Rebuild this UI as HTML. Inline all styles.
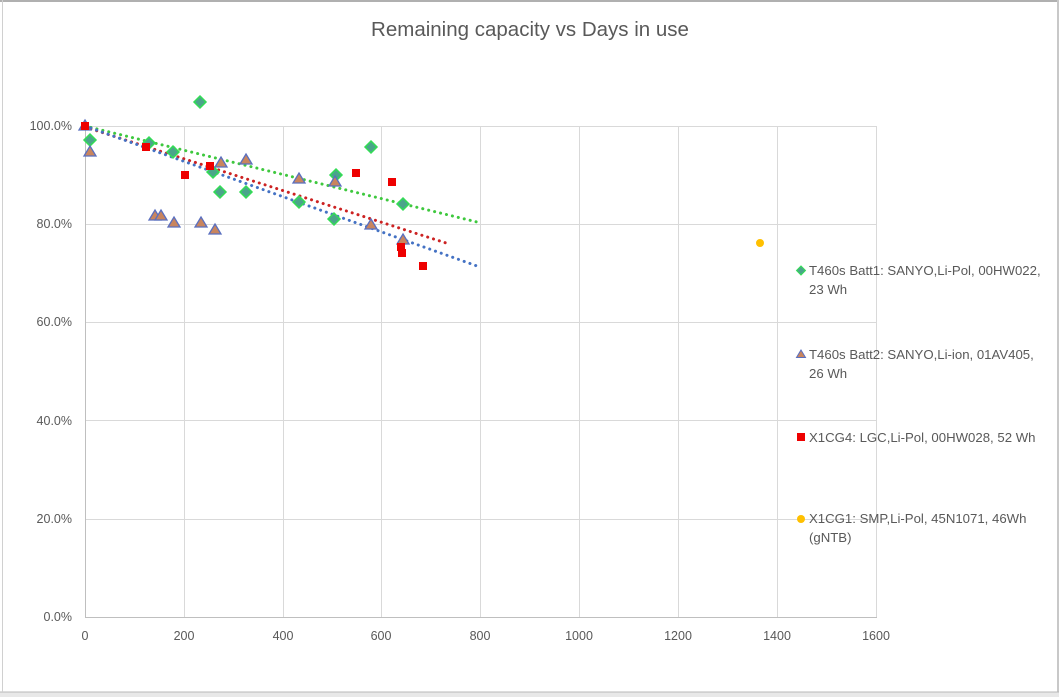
<!DOCTYPE html>
<html><head><meta charset="utf-8"><style>
body{margin:0;background:#fff}
svg{display:block;font-family:"Liberation Sans",sans-serif}
</style></head><body>
<svg width="1059" height="697" viewBox="0 0 1059 697" xmlns="http://www.w3.org/2000/svg">
<rect x="0" y="0" width="1059" height="697" fill="#fff"/>
<rect x="0" y="0" width="1059" height="2" fill="#b0b0b0"/>
<rect x="1057" y="0" width="2" height="697" fill="#c8c8c8"/>
<rect x="0" y="692" width="1059" height="5" fill="#e8e8e8"/>
<line x1="0" y1="692" x2="1059" y2="692" stroke="#b8b8b8"/>
<line x1="2.5" y1="0" x2="2.5" y2="692" stroke="#d0d0d0"/>
<text x="530" y="36" text-anchor="middle" font-size="20.5" fill="#595959">Remaining capacity vs Days in use</text>
<g stroke="#d9d9d9" stroke-width="1">
<line x1="85" y1="126.5" x2="877" y2="126.5"/>
<line x1="85" y1="224.5" x2="877" y2="224.5"/>
<line x1="85" y1="322.5" x2="877" y2="322.5"/>
<line x1="85" y1="420.5" x2="877" y2="420.5"/>
<line x1="85" y1="519.5" x2="877" y2="519.5"/>
<line x1="184.5" y1="126" x2="184.5" y2="617"/>
<line x1="283.5" y1="126" x2="283.5" y2="617"/>
<line x1="381.5" y1="126" x2="381.5" y2="617"/>
<line x1="480.5" y1="126" x2="480.5" y2="617"/>
<line x1="579.5" y1="126" x2="579.5" y2="617"/>
<line x1="678.5" y1="126" x2="678.5" y2="617"/>
<line x1="777.5" y1="126" x2="777.5" y2="617"/>
<line x1="876.5" y1="126" x2="876.5" y2="617"/>
</g>
<line x1="85.5" y1="126" x2="85.5" y2="617" stroke="#bfbfbf"/>
<line x1="85" y1="617.5" x2="877" y2="617.5" stroke="#bfbfbf"/>
<g font-size="12.5" fill="#595959" text-anchor="end">
<text x="72" y="130">100.0%</text>
<text x="72" y="228">80.0%</text>
<text x="72" y="326">60.0%</text>
<text x="72" y="425">40.0%</text>
<text x="72" y="523">20.0%</text>
<text x="72" y="621">0.0%</text>
</g>
<g font-size="12.5" fill="#595959" text-anchor="middle">
<text x="85" y="640">0</text>
<text x="184" y="640">200</text>
<text x="283" y="640">400</text>
<text x="381" y="640">600</text>
<text x="480" y="640">800</text>
<text x="579" y="640">1000</text>
<text x="678" y="640">1200</text>
<text x="777" y="640">1400</text>
<text x="876" y="640">1600</text>
</g>
<g fill="none" stroke-width="3" stroke-linecap="round" stroke-dasharray="0.1 6">
<line x1="85" y1="126" x2="477" y2="222" stroke="#3ec83e"/>
<line x1="85" y1="127" x2="446" y2="243" stroke="#cc2222"/>
<line x1="85" y1="126" x2="477" y2="266" stroke="#4472c4"/>
</g>
<g fill="#4aa58a" stroke="#33dd55" stroke-width="1.5">
<path d="M90 134l6 6-6 6-6-6z"/><path d="M200 96l6 6-6 6-6-6z"/><path d="M149 137l6 6-6 6-6-6z"/>
<path d="M173 146l6 6-6 6-6-6z"/><path d="M213 166l6 6-6 6-6-6z"/><path d="M220 186l6 6-6 6-6-6z"/>
<path d="M246 186l6 6-6 6-6-6z"/><path d="M299 196l6 6-6 6-6-6z"/><path d="M334 213l6 6-6 6-6-6z"/>
<path d="M336 169l6 6-6 6-6-6z"/><path d="M371 141l6 6-6 6-6-6z"/><path d="M403 198l6 6-6 6-6-6z"/>
</g>
<g fill="#c9855e" stroke="#5a6fbf" stroke-width="1.3">
<path d="M85 120l6 10h-12z"/><path d="M90 146l6 10h-12z"/><path d="M155 210l6 10h-12z"/><path d="M161 210l6 10h-12z"/>
<path d="M174 217l6 10h-12z"/><path d="M201 217l6 10h-12z"/><path d="M215 224l6 10h-12z"/><path d="M221 157l6 10h-12z"/>
<path d="M246 154l6 10h-12z"/><path d="M299 173l6 10h-12z"/><path d="M335 176l6 10h-12z"/><path d="M371 219l6 10h-12z"/>
<path d="M403 234l6 10h-12z"/>
</g>
<g fill="#ee0000">
<rect x="81" y="122" width="8" height="8"/><rect x="142" y="143" width="8" height="8"/><rect x="181" y="171" width="8" height="8"/>
<rect x="206" y="162" width="8" height="8"/><rect x="352" y="169" width="8" height="8"/><rect x="388" y="178" width="8" height="8"/>
<rect x="397" y="243" width="8" height="8"/><rect x="398" y="249" width="8" height="8"/><rect x="419" y="262" width="8" height="8"/>
</g>
<circle cx="760" cy="243" r="4" fill="#ffc000"/>
<g font-size="13.2" fill="#595959">
<path d="M801 266l4.5 4.5-4.5 4.5-4.5-4.5z" fill="#4aa58a" stroke="#33dd55"/>
<text x="809" y="275">T460s Batt1: SANYO,Li-Pol, 00HW022,</text>
<text x="809" y="294">23 Wh</text>
<path d="M801 350l4.5 7.5h-9z" fill="#c9855e" stroke="#5a6fbf"/>
<text x="809" y="359">T460s Batt2: SANYO,Li-ion, 01AV405,</text>
<text x="809" y="378">26 Wh</text>
<rect x="797" y="433" width="8" height="8" fill="#ee0000"/>
<text x="809" y="442">X1CG4: LGC,Li-Pol, 00HW028, 52 Wh</text>
<circle cx="801" cy="519" r="4" fill="#ffc000"/>
<text x="809" y="523">X1CG1: SMP,Li-Pol, 45N1071, 46Wh</text>
<text x="809" y="542">(gNTB)</text>
</g>
</svg>
</body></html>
